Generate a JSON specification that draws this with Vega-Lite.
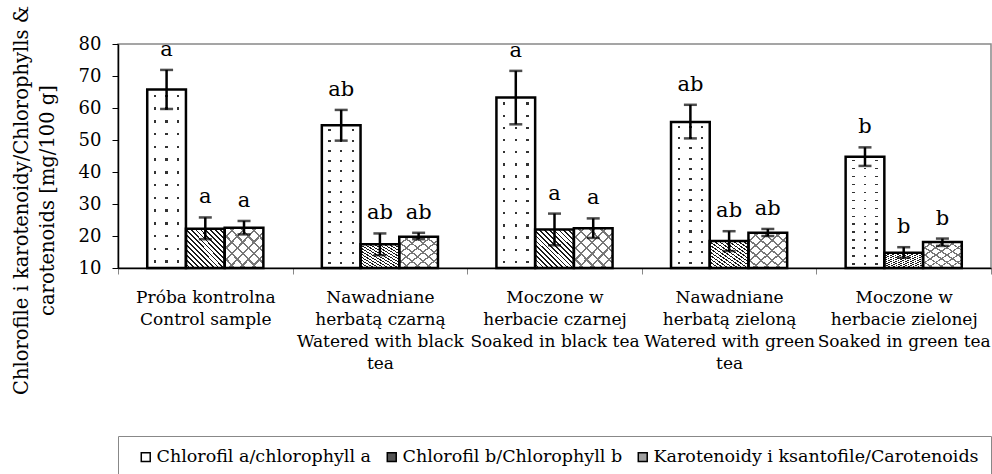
{
  "$schema": "https://vega.github.io/schema/vega-lite/v6.json",
  "autosize": "none",
  "width": 873,
  "height": 224,
  "padding": {"left": 118, "top": 44, "right": 1, "bottom": 206},
  "background": "white",
  "config": {
    "view": {"stroke": "#888888", "strokeWidth": 1.5},
    "font": "DejaVu Serif",
    "axisY": {"labelOverlap": false, "labelBound": false, "labelFlush": false, "tickCount": 8}
  },
  "data": {
    "values": [
      {"group": "Próba kontrolna|Control sample", "series": "Chlorofil a/chlorophyll a", "value": 65.8, "lo": 59.7, "hi": 71.9, "letter": "a"},
      {"group": "Próba kontrolna|Control sample", "series": "Chlorofil b/Chlorophyll b", "value": 22.3, "lo": 19.0, "hi": 25.8, "letter": "a"},
      {"group": "Próba kontrolna|Control sample", "series": "Karotenoidy i ksantofile/Carotenoids", "value": 22.6, "lo": 20.5, "hi": 24.7, "letter": "a"},
      {"group": "Nawadniane|herbatą czarną|Watered with black|tea", "series": "Chlorofil a/chlorophyll a", "value": 54.6, "lo": 49.8, "hi": 59.4, "letter": "ab"},
      {"group": "Nawadniane|herbatą czarną|Watered with black|tea", "series": "Chlorofil b/Chlorophyll b", "value": 17.4, "lo": 14.0, "hi": 20.8, "letter": "ab"},
      {"group": "Nawadniane|herbatą czarną|Watered with black|tea", "series": "Karotenoidy i ksantofile/Carotenoids", "value": 19.8, "lo": 19.0, "hi": 21.0, "letter": "ab"},
      {"group": "Moczone w|herbacie czarnej|Soaked in black tea", "series": "Chlorofil a/chlorophyll a", "value": 63.3, "lo": 54.9, "hi": 71.6, "letter": "a"},
      {"group": "Moczone w|herbacie czarnej|Soaked in black tea", "series": "Chlorofil b/Chlorophyll b", "value": 22.0, "lo": 17.1, "hi": 27.0, "letter": "a"},
      {"group": "Moczone w|herbacie czarnej|Soaked in black tea", "series": "Karotenoidy i ksantofile/Carotenoids", "value": 22.4, "lo": 19.4, "hi": 25.5, "letter": "a"},
      {"group": "Nawadniane|herbatą zieloną|Watered with green|tea", "series": "Chlorofil a/chlorophyll a", "value": 55.6, "lo": 50.5, "hi": 61.0, "letter": "ab"},
      {"group": "Nawadniane|herbatą zieloną|Watered with green|tea", "series": "Chlorofil b/Chlorophyll b", "value": 18.4, "lo": 15.3, "hi": 21.5, "letter": "ab"},
      {"group": "Nawadniane|herbatą zieloną|Watered with green|tea", "series": "Karotenoidy i ksantofile/Carotenoids", "value": 21.0, "lo": 20.0, "hi": 22.2, "letter": "ab"},
      {"group": "Moczone w|herbacie zielonej|Soaked in green tea", "series": "Chlorofil a/chlorophyll a", "value": 44.8, "lo": 41.9, "hi": 47.7, "letter": "b"},
      {"group": "Moczone w|herbacie zielonej|Soaked in green tea", "series": "Chlorofil b/Chlorophyll b", "value": 14.8, "lo": 13.2, "hi": 16.5, "letter": "b"},
      {"group": "Moczone w|herbacie zielonej|Soaked in green tea", "series": "Karotenoidy i ksantofile/Carotenoids", "value": 18.1, "lo": 16.9, "hi": 19.2, "letter": "b"}
    ]
  },
  "encoding": {
    "x": {
      "field": "group", "type": "nominal", "sort": null,
      "scale": {"paddingInner": 0, "paddingOuter": 0},
      "axis": {
        "title": null, "labelAngle": 0,
        "labelExpr": "split(datum.label, '|')",
        "labelFont": "DejaVu Serif", "labelFontSize": 17, "labelLineHeight": 22,
        "labelColor": "#000000", "labelPadding": 15, "labelLimit": 0,
        "labelOverlap": false, "labelBound": false,
        "tickBand": "extent", "tickSize": 6, "tickColor": "#888888", "tickWidth": 1,
        "domainColor": "#000000", "domainWidth": 1.5
      }
    },
    "xOffset": {
      "field": "series", "type": "nominal",
      "scale": {"domain": ["Chlorofil a/chlorophyll a", "Chlorofil b/Chlorophyll b", "Karotenoidy i ksantofile/Carotenoids"], "paddingInner": 0, "paddingOuter": 0.755}
    }
  },
  "layer": [
    {
      "mark": {"type": "bar", "strokeWidth": 0},
      "encoding": {
        "y": {
          "field": "value", "type": "quantitative",
          "scale": {"domain": [10, 80], "zero": false, "nice": false},
          "axis": {
            "values": [10, 20, 30, 40, 50, 60, 70, 80],
            "grid": false, "tickSize": 6, "tickColor": "#000000", "tickWidth": 1,
            "domainColor": "#000000", "domainWidth": 1.5,
            "labelFont": "DejaVu Serif", "labelFontSize": 18, "labelColor": "#000000", "labelPadding": 11,
            "labelOverlap": false, "labelBound": false, "labelFlush": false,
            "title": ["Chlorofile i karotenoidy/Chlorophylls &", "carotenoids [mg/100 g]"],
            "titleFont": "DejaVu Serif", "titleFontSize": 19.5, "titleFontWeight": "normal", "titleColor": "#000000",
            "titleAngle": -90, "titleAlign": "center", "titleBaseline": "top", "titleLineHeight": 26,
            "titleX": -106, "titleY": 156
          }
        },
        "y2": {"datum": 10},
        "color": {
          "field": "series", "type": "nominal",
          "scale": {"domain": ["Chlorofil a/chlorophyll a", "Chlorofil b/Chlorophyll b", "Karotenoidy i ksantofile/Carotenoids"], "range": ["#ffffff", "#555555", "#a0a0a0"]},
          "legend": {
            "title": " ", "titleOrient": "left", "titlePadding": 7, "titleFontSize": 18,
            "orient": "none", "legendX": 0, "legendY": 392, "direction": "horizontal",
            "strokeColor": "#888888", "padding": 12, "symbolType": "square", "symbolSize": 80,
            "symbolStrokeColor": "#000000", "symbolStrokeWidth": 1.5, "symbolOffset": 0,
            "labelFont": "DejaVu Serif", "labelFontSize": 17.5, "labelColor": "#000000", "labelOffset": 2,
            "columnPadding": 11, "labelLimit": 0
          }
        }
      }
    },
    {
      "transform": [{"filter": "datum.series === 'Chlorofil a/chlorophyll a'"}],
      "mark": {"type": "bar", "strokeWidth": 0, "fill": {"gradient": "linear", "x1": 0, "y1": 0, "x2": 0, "y2": 1, "stops": [
        {"offset": 0, "color": "rgba(255,255,255,0)"},
        {"offset": 0.0287, "color": "rgba(255,255,255,0)"}, {"offset": 0.0287, "color": "#333333"}, {"offset": 0.0427, "color": "#333333"}, {"offset": 0.0427, "color": "rgba(255,255,255,0)"},
        {"offset": 0.1001, "color": "rgba(255,255,255,0)"}, {"offset": 0.1001, "color": "#333333"}, {"offset": 0.1141, "color": "#333333"}, {"offset": 0.1141, "color": "rgba(255,255,255,0)"},
        {"offset": 0.1716, "color": "rgba(255,255,255,0)"}, {"offset": 0.1716, "color": "#333333"}, {"offset": 0.1856, "color": "#333333"}, {"offset": 0.1856, "color": "rgba(255,255,255,0)"},
        {"offset": 0.243, "color": "rgba(255,255,255,0)"}, {"offset": 0.243, "color": "#333333"}, {"offset": 0.257, "color": "#333333"}, {"offset": 0.257, "color": "rgba(255,255,255,0)"},
        {"offset": 0.3144, "color": "rgba(255,255,255,0)"}, {"offset": 0.3144, "color": "#333333"}, {"offset": 0.3284, "color": "#333333"}, {"offset": 0.3284, "color": "rgba(255,255,255,0)"},
        {"offset": 0.3859, "color": "rgba(255,255,255,0)"}, {"offset": 0.3859, "color": "#333333"}, {"offset": 0.3999, "color": "#333333"}, {"offset": 0.3999, "color": "rgba(255,255,255,0)"},
        {"offset": 0.4573, "color": "rgba(255,255,255,0)"}, {"offset": 0.4573, "color": "#333333"}, {"offset": 0.4713, "color": "#333333"}, {"offset": 0.4713, "color": "rgba(255,255,255,0)"},
        {"offset": 0.5287, "color": "rgba(255,255,255,0)"}, {"offset": 0.5287, "color": "#333333"}, {"offset": 0.5427, "color": "#333333"}, {"offset": 0.5427, "color": "rgba(255,255,255,0)"},
        {"offset": 0.6001, "color": "rgba(255,255,255,0)"}, {"offset": 0.6001, "color": "#333333"}, {"offset": 0.6141, "color": "#333333"}, {"offset": 0.6141, "color": "rgba(255,255,255,0)"},
        {"offset": 0.6716, "color": "rgba(255,255,255,0)"}, {"offset": 0.6716, "color": "#333333"}, {"offset": 0.6856, "color": "#333333"}, {"offset": 0.6856, "color": "rgba(255,255,255,0)"},
        {"offset": 0.743, "color": "rgba(255,255,255,0)"}, {"offset": 0.743, "color": "#333333"}, {"offset": 0.757, "color": "#333333"}, {"offset": 0.757, "color": "rgba(255,255,255,0)"},
        {"offset": 0.8144, "color": "rgba(255,255,255,0)"}, {"offset": 0.8144, "color": "#333333"}, {"offset": 0.8284, "color": "#333333"}, {"offset": 0.8284, "color": "rgba(255,255,255,0)"},
        {"offset": 0.8859, "color": "rgba(255,255,255,0)"}, {"offset": 0.8859, "color": "#333333"}, {"offset": 0.8999, "color": "#333333"}, {"offset": 0.8999, "color": "rgba(255,255,255,0)"},
        {"offset": 0.9573, "color": "rgba(255,255,255,0)"}, {"offset": 0.9573, "color": "#333333"}, {"offset": 0.9713, "color": "#333333"}, {"offset": 0.9713, "color": "rgba(255,255,255,0)"},
        {"offset": 1, "color": "rgba(255,255,255,0)"}
      ]}},
      "encoding": {"y": {"field": "value", "type": "quantitative"}, "y2": {"datum": 10}}
    },
    {
      "transform": [{"filter": "datum.series === 'Chlorofil a/chlorophyll a'"}],
      "mark": {"type": "bar", "strokeWidth": 0, "fill": {"gradient": "linear", "x1": 0, "y1": 0, "x2": 1, "y2": 0, "stops": [
        {"offset": 0, "color": "#ffffff"}, {"offset": 0.17, "color": "#ffffff"}, {"offset": 0.17, "color": "rgba(255,255,255,0)"}, {"offset": 0.23, "color": "rgba(255,255,255,0)"}, {"offset": 0.23, "color": "#ffffff"},
        {"offset": 0.47, "color": "#ffffff"}, {"offset": 0.47, "color": "rgba(255,255,255,0)"}, {"offset": 0.53, "color": "rgba(255,255,255,0)"}, {"offset": 0.53, "color": "#ffffff"},
        {"offset": 0.77, "color": "#ffffff"}, {"offset": 0.77, "color": "rgba(255,255,255,0)"}, {"offset": 0.83, "color": "rgba(255,255,255,0)"}, {"offset": 0.83, "color": "#ffffff"},
        {"offset": 1, "color": "#ffffff"}
      ]}},
      "encoding": {"y": {"field": "value", "type": "quantitative"}, "y2": {"datum": 10}}
    },
    {
      "transform": [{"filter": "datum.series === 'Chlorofil b/Chlorophyll b'"}],
      "mark": {"type": "bar", "strokeWidth": 0, "fill": {"gradient": "linear", "x1": 0, "y1": 1, "x2": 1, "y2": 0, "stops": [
        {"offset": 0, "color": "#ffffff"}, {"offset": 0.04, "color": "#ffffff"}, {"offset": 0.04, "color": "#1a1a1a"}, {"offset": 0.0625, "color": "#1a1a1a"},
        {"offset": 0.0625, "color": "#ffffff"}, {"offset": 0.1025, "color": "#ffffff"}, {"offset": 0.1025, "color": "#1a1a1a"}, {"offset": 0.125, "color": "#1a1a1a"},
        {"offset": 0.125, "color": "#ffffff"}, {"offset": 0.165, "color": "#ffffff"}, {"offset": 0.165, "color": "#1a1a1a"}, {"offset": 0.1875, "color": "#1a1a1a"},
        {"offset": 0.1875, "color": "#ffffff"}, {"offset": 0.2275, "color": "#ffffff"}, {"offset": 0.2275, "color": "#1a1a1a"}, {"offset": 0.25, "color": "#1a1a1a"},
        {"offset": 0.25, "color": "#ffffff"}, {"offset": 0.29, "color": "#ffffff"}, {"offset": 0.29, "color": "#1a1a1a"}, {"offset": 0.3125, "color": "#1a1a1a"},
        {"offset": 0.3125, "color": "#ffffff"}, {"offset": 0.3525, "color": "#ffffff"}, {"offset": 0.3525, "color": "#1a1a1a"}, {"offset": 0.375, "color": "#1a1a1a"},
        {"offset": 0.375, "color": "#ffffff"}, {"offset": 0.415, "color": "#ffffff"}, {"offset": 0.415, "color": "#1a1a1a"}, {"offset": 0.4375, "color": "#1a1a1a"},
        {"offset": 0.4375, "color": "#ffffff"}, {"offset": 0.4775, "color": "#ffffff"}, {"offset": 0.4775, "color": "#1a1a1a"}, {"offset": 0.5, "color": "#1a1a1a"},
        {"offset": 0.5, "color": "#ffffff"}, {"offset": 0.54, "color": "#ffffff"}, {"offset": 0.54, "color": "#1a1a1a"}, {"offset": 0.5625, "color": "#1a1a1a"},
        {"offset": 0.5625, "color": "#ffffff"}, {"offset": 0.6025, "color": "#ffffff"}, {"offset": 0.6025, "color": "#1a1a1a"}, {"offset": 0.625, "color": "#1a1a1a"},
        {"offset": 0.625, "color": "#ffffff"}, {"offset": 0.665, "color": "#ffffff"}, {"offset": 0.665, "color": "#1a1a1a"}, {"offset": 0.6875, "color": "#1a1a1a"},
        {"offset": 0.6875, "color": "#ffffff"}, {"offset": 0.7275, "color": "#ffffff"}, {"offset": 0.7275, "color": "#1a1a1a"}, {"offset": 0.75, "color": "#1a1a1a"},
        {"offset": 0.75, "color": "#ffffff"}, {"offset": 0.79, "color": "#ffffff"}, {"offset": 0.79, "color": "#1a1a1a"}, {"offset": 0.8125, "color": "#1a1a1a"},
        {"offset": 0.8125, "color": "#ffffff"}, {"offset": 0.8525, "color": "#ffffff"}, {"offset": 0.8525, "color": "#1a1a1a"}, {"offset": 0.875, "color": "#1a1a1a"},
        {"offset": 0.875, "color": "#ffffff"}, {"offset": 0.915, "color": "#ffffff"}, {"offset": 0.915, "color": "#1a1a1a"}, {"offset": 0.9375, "color": "#1a1a1a"},
        {"offset": 0.9375, "color": "#ffffff"}, {"offset": 0.9775, "color": "#ffffff"}, {"offset": 0.9775, "color": "#1a1a1a"}, {"offset": 1, "color": "#1a1a1a"}
      ]}},
      "encoding": {"y": {"field": "value", "type": "quantitative"}, "y2": {"datum": 10}}
    },
    {
      "transform": [{"filter": "datum.series === 'Karotenoidy i ksantofile/Carotenoids'"}],
      "mark": {"type": "bar", "strokeWidth": 0, "fill": {"gradient": "linear", "x1": 0, "y1": 1, "x2": 1, "y2": 0, "stops": [
        {"offset": 0, "color": "#ffffff"}, {"offset": 0.1143, "color": "#ffffff"}, {"offset": 0.1143, "color": "#777777"}, {"offset": 0.1429, "color": "#777777"},
        {"offset": 0.1429, "color": "#ffffff"}, {"offset": 0.2571, "color": "#ffffff"}, {"offset": 0.2571, "color": "#777777"}, {"offset": 0.2857, "color": "#777777"},
        {"offset": 0.2857, "color": "#ffffff"}, {"offset": 0.4, "color": "#ffffff"}, {"offset": 0.4, "color": "#777777"}, {"offset": 0.4286, "color": "#777777"},
        {"offset": 0.4286, "color": "#ffffff"}, {"offset": 0.5429, "color": "#ffffff"}, {"offset": 0.5429, "color": "#777777"}, {"offset": 0.5714, "color": "#777777"},
        {"offset": 0.5714, "color": "#ffffff"}, {"offset": 0.6857, "color": "#ffffff"}, {"offset": 0.6857, "color": "#777777"}, {"offset": 0.7143, "color": "#777777"},
        {"offset": 0.7143, "color": "#ffffff"}, {"offset": 0.8286, "color": "#ffffff"}, {"offset": 0.8286, "color": "#777777"}, {"offset": 0.8571, "color": "#777777"},
        {"offset": 0.8571, "color": "#ffffff"}, {"offset": 0.9714, "color": "#ffffff"}, {"offset": 0.9714, "color": "#777777"}, {"offset": 1, "color": "#777777"}
      ]}},
      "encoding": {"y": {"field": "value", "type": "quantitative"}, "y2": {"datum": 10}}
    },
    {
      "transform": [{"filter": "datum.series === 'Karotenoidy i ksantofile/Carotenoids'"}],
      "mark": {"type": "bar", "strokeWidth": 0, "fill": {"gradient": "linear", "x1": 0, "y1": 0, "x2": 1, "y2": 1, "stops": [
        {"offset": 0, "color": "rgba(255,255,255,0)"}, {"offset": 0.1143, "color": "rgba(255,255,255,0)"}, {"offset": 0.1143, "color": "#777777"}, {"offset": 0.1429, "color": "#777777"},
        {"offset": 0.1429, "color": "rgba(255,255,255,0)"}, {"offset": 0.2571, "color": "rgba(255,255,255,0)"}, {"offset": 0.2571, "color": "#777777"}, {"offset": 0.2857, "color": "#777777"},
        {"offset": 0.2857, "color": "rgba(255,255,255,0)"}, {"offset": 0.4, "color": "rgba(255,255,255,0)"}, {"offset": 0.4, "color": "#777777"}, {"offset": 0.4286, "color": "#777777"},
        {"offset": 0.4286, "color": "rgba(255,255,255,0)"}, {"offset": 0.5429, "color": "rgba(255,255,255,0)"}, {"offset": 0.5429, "color": "#777777"}, {"offset": 0.5714, "color": "#777777"},
        {"offset": 0.5714, "color": "rgba(255,255,255,0)"}, {"offset": 0.6857, "color": "rgba(255,255,255,0)"}, {"offset": 0.6857, "color": "#777777"}, {"offset": 0.7143, "color": "#777777"},
        {"offset": 0.7143, "color": "rgba(255,255,255,0)"}, {"offset": 0.8286, "color": "rgba(255,255,255,0)"}, {"offset": 0.8286, "color": "#777777"}, {"offset": 0.8571, "color": "#777777"},
        {"offset": 0.8571, "color": "rgba(255,255,255,0)"}, {"offset": 0.9714, "color": "rgba(255,255,255,0)"}, {"offset": 0.9714, "color": "#777777"}, {"offset": 1, "color": "#777777"}
      ]}},
      "encoding": {"y": {"field": "value", "type": "quantitative"}, "y2": {"datum": 10}}
    },
    {
      "mark": {"type": "bar", "fillOpacity": 0, "fill": "#ffffff", "stroke": "#000000", "strokeWidth": 2.5},
      "encoding": {"y": {"field": "value", "type": "quantitative"}, "y2": {"datum": 10}}
    },
    {
      "mark": {"type": "rule", "color": "#000000", "strokeWidth": 2.5},
      "encoding": {"y": {"field": "lo", "type": "quantitative"}, "y2": {"field": "hi"}}
    },
    {
      "mark": {"type": "tick", "color": "#000000", "thickness": 2.5, "size": 13, "orient": "horizontal"},
      "encoding": {"y": {"field": "hi", "type": "quantitative"}}
    },
    {
      "mark": {"type": "tick", "color": "#000000", "thickness": 2.5, "size": 13, "orient": "horizontal"},
      "encoding": {"y": {"field": "lo", "type": "quantitative"}}
    },
    {
      "mark": {"type": "text", "font": "DejaVu Serif", "fontSize": 21, "color": "#000000", "baseline": "alphabetic", "dy": -14},
      "encoding": {"y": {"field": "hi", "type": "quantitative"}, "text": {"field": "letter"}}
    }
  ]
}
